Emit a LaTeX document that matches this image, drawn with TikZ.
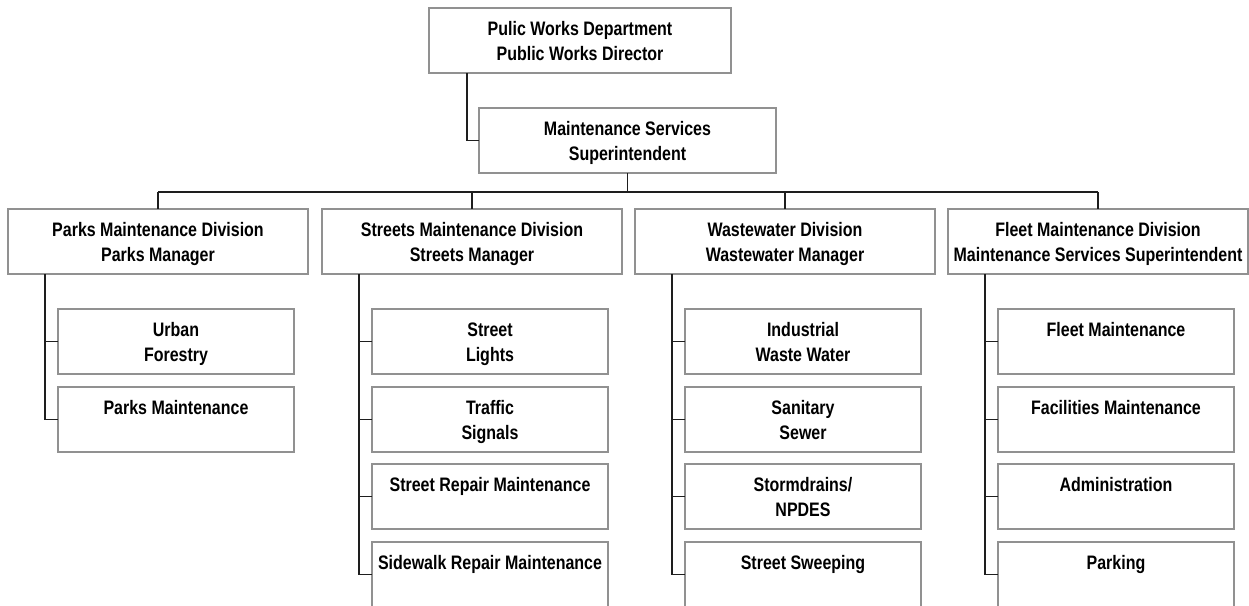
\documentclass[tikz,border=0pt]{standalone}
\usepackage{fontspec}
\setmainfont{Liberation Sans}[FakeStretch=0.82]
\definecolor{boxgray}{RGB}{145,145,145}
\definecolor{linkgray}{RGB}{30,30,30}
% box content: fixed width and height, lines hung from the top
\newcommand{\orgtext}[2]{\parbox[t][65pt][t]{#1}{\centering\rule{0pt}{27pt}#2}}
\tikzset{
  unit/.style={draw=boxgray, line width=1.1pt, inner sep=0pt, outer sep=0pt,
    anchor=north west, fill=white,
    font=\fontsize{19.5pt}{25pt}\selectfont\bfseries},
  link/.style={draw=linkgray, line width=1.2pt},
}
\begin{document}
\begin{tikzpicture}[x=1pt,y=-1pt]
\useasboundingbox (0,0) rectangle (1249,605);

% head of the department
\node[unit] (top) at (429,8) {\orgtext{302pt}{Pulic Works Department\\Public Works Director}};
\node[unit] (maint) at (479,108) {\orgtext{297pt}{Maintenance Services\\Superintendent}};

% divisions
\node[unit] (parks)   at (8,209)   {\orgtext{300pt}{Parks Maintenance Division\\Parks Manager}};
\node[unit] (streets) at (322,209) {\orgtext{300pt}{Streets Maintenance Division\\Streets Manager}};
\node[unit] (waste)   at (635,209) {\orgtext{300pt}{Wastewater Division\\Wastewater Manager}};
\node[unit] (fleet)   at (948,209) {\orgtext{300pt}{Fleet Maintenance Division\\Maintenance Services Superintendent}};

% sections of each division
\node[unit] (p1) at (58,309)  {\orgtext{236pt}{Urban\\Forestry}};
\node[unit] (p2) at (58,387)  {\orgtext{236pt}{Parks Maintenance}};

\node[unit] (s1) at (372,309) {\orgtext{236pt}{Street\\Lights}};
\node[unit] (s2) at (372,387) {\orgtext{236pt}{Traffic\\Signals}};
\node[unit] (s3) at (372,464) {\orgtext{236pt}{Street Repair Maintenance}};
\node[unit] (s4) at (372,542) {\orgtext{236pt}{Sidewalk Repair Maintenance}};

\node[unit] (w1) at (685,309) {\orgtext{236pt}{Industrial\\Waste Water}};
\node[unit] (w2) at (685,387) {\orgtext{236pt}{Sanitary\\Sewer}};
\node[unit] (w3) at (685,464) {\orgtext{236pt}{Stormdrains/\\NPDES}};
\node[unit] (w4) at (685,542) {\orgtext{236pt}{Street Sweeping}};

\node[unit] (f1) at (998,309) {\orgtext{236pt}{Fleet Maintenance}};
\node[unit] (f2) at (998,387) {\orgtext{236pt}{Facilities Maintenance}};
\node[unit] (f3) at (998,464) {\orgtext{236pt}{Administration}};
\node[unit] (f4) at (998,542) {\orgtext{236pt}{Parking}};

% reporting lines
\draw[link] ([xshift=38pt]top.south west) |- (maint.west);
\coordinate (bus) at (0,192);
\draw[link] (maint.south) -- (maint.south |- bus);
\draw[link] (parks.north |- bus) -- (fleet.north |- bus);
\foreach \d in {parks,streets,waste,fleet}
  \draw[link] (\d.north |- bus) -- (\d.north);

\draw[link] ([xshift=37pt]parks.south west) |- (p2.west);
\draw[link] (p1.west) -- ++(-13,0);
\draw[link] ([xshift=37pt]streets.south west) |- (s4.west);
\foreach \c in {s1,s2,s3} \draw[link] (\c.west) -- ++(-13,0);
\draw[link] ([xshift=37pt]waste.south west) |- (w4.west);
\foreach \c in {w1,w2,w3} \draw[link] (\c.west) -- ++(-13,0);
\draw[link] ([xshift=37pt]fleet.south west) |- (f4.west);
\foreach \c in {f1,f2,f3} \draw[link] (\c.west) -- ++(-13,0);
\end{tikzpicture}
\end{document}
